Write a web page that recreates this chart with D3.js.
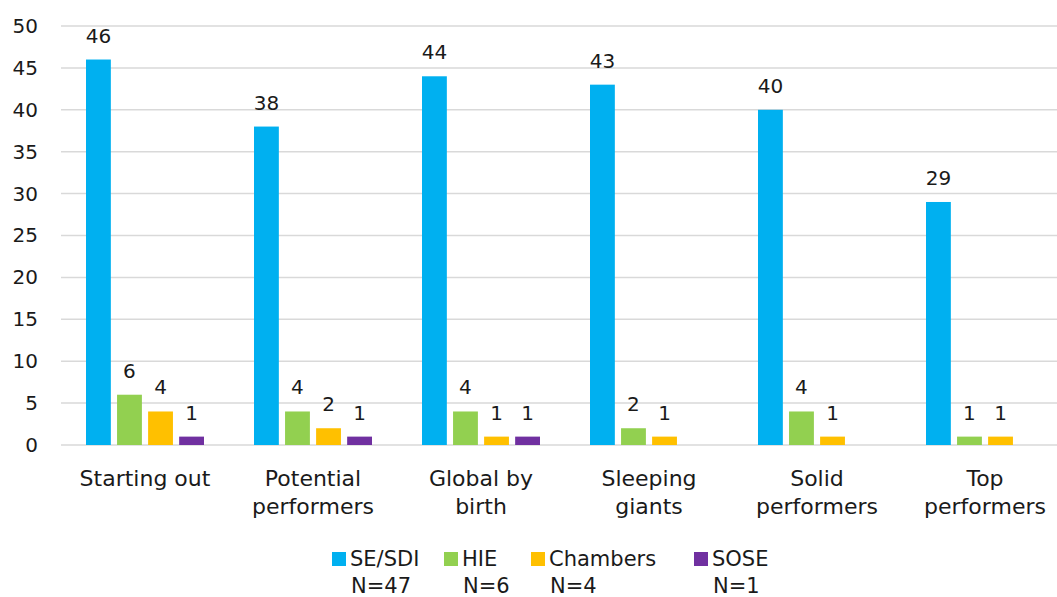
<!DOCTYPE html>
<html>
<head>
<meta charset="utf-8">
<script src="https://cdn.jsdelivr.net/npm/d3@7"></script>
<style>
  html, body { margin: 0; padding: 0; background: #fff; }
  svg { display: block; font-family: "DejaVu Sans", "Liberation Sans", sans-serif; }
</style>
</head>
<body>
<svg id="chart" width="1057" height="597"></svg>
<script>
// Segment names (two-line labels on the x axis)
const categories = [
  ["Starting out"],
  ["Potential", "performers"],
  ["Global by", "birth"],
  ["Sleeping", "giants"],
  ["Solid", "performers"],
  ["Top", "performers"]
];
const seriesNames = ["SE/SDI", "HIE", "Chambers", "SOSE"];
const seriesSizes = ["N=47", "N=6", "N=4", "N=1"];
const seriesColors = ["#00B0F0", "#92D050", "#FFC000", "#7030A0"];

// Counts per segment, one array per organisation type
const seSdi    = [46, 38, 44, 43, 40, 29];
const hie      = [6, 4, 4, 2, 4, 1];
const chambers = [4, 2, 1, 1, 1, 1];
const sose     = [1, 1, 1, 0, 0, 0];
const seriesValues = [seSdi, hie, chambers, sose];

const yTicks = [0, 5, 10, 15, 20, 25, 30, 35, 40, 45, 50];

const svg = d3.select("#chart");
const plot = { left: 61, right: 1069, top: 26, bottom: 445 };
const ink = "#1a1a1a";

const x = d3.scaleBand().domain(d3.range(categories.length)).range([plot.left, plot.right]);
const xInner = d3.scaleBand().domain(d3.range(seriesNames.length))
  .range([25, x.bandwidth() - 25]).paddingInner(0.2);
const y = d3.scaleLinear().domain([0, 50]).range([plot.bottom, plot.top]);

// Horizontal gridlines
svg.append("g").selectAll("line").data(yTicks).join("line")
  .attr("x1", plot.left).attr("x2", plot.right)
  .attr("y1", d => y(d)).attr("y2", d => y(d))
  .attr("stroke", "#d9d9d9").attr("stroke-width", 1.5);

// Y axis labels
const yAxis = svg.append("g").attr("transform", `translate(${plot.left},0)`)
  .call(d3.axisLeft(y).tickValues(yTicks).tickSize(0).tickPadding(23));
yAxis.select(".domain").remove();
yAxis.selectAll("text").attr("font-size", 20).attr("fill", ink)
  .attr("font-family", "'DejaVu Sans', sans-serif");

// Bars and value labels
const groups = svg.append("g").selectAll("g").data(categories).join("g")
  .attr("transform", (d, i) => `translate(${x(i)},0)`);

seriesValues.forEach((vals, s) => {
  groups.each(function (c, i) {
    const v = vals[i];
    if (!(v > 0)) return;
    const g = d3.select(this);
    g.append("rect")
      .attr("x", xInner(s)).attr("width", xInner.bandwidth())
      .attr("y", y(v)).attr("height", y(0) - y(v))
      .attr("fill", seriesColors[s]);
    g.append("text")
      .attr("x", xInner(s) + xInner.bandwidth() / 2)
      .attr("y", y(v) - 17)
      .attr("text-anchor", "middle").attr("font-size", 20).attr("fill", ink)
      .text(v);
  });
});

// Category labels
groups.append("text")
  .attr("text-anchor", "middle").attr("font-size", 22).attr("fill", ink)
  .attr("transform", `translate(${x.bandwidth() / 2},0)`)
  .selectAll("tspan").data(d => d).join("tspan")
  .attr("x", 0).attr("y", (d, j) => 486 + j * 28)
  .text(d => d);

// Legend
const legendX = [332, 444, 531, 694];
const legend = svg.append("g").selectAll("g").data(seriesNames).join("g")
  .attr("transform", (d, i) => `translate(${legendX[i]},0)`);
legend.append("rect").attr("x", 0).attr("y", 552).attr("width", 14).attr("height", 14)
  .attr("fill", (d, i) => seriesColors[i]);
legend.append("text").attr("x", 18).attr("y", 566).attr("font-size", 21).attr("fill", ink)
  .text(d => d);
legend.append("text").attr("x", 19).attr("y", 593).attr("font-size", 21).attr("fill", ink)
  .text((d, i) => seriesSizes[i]);
</script>
</body>
</html>
